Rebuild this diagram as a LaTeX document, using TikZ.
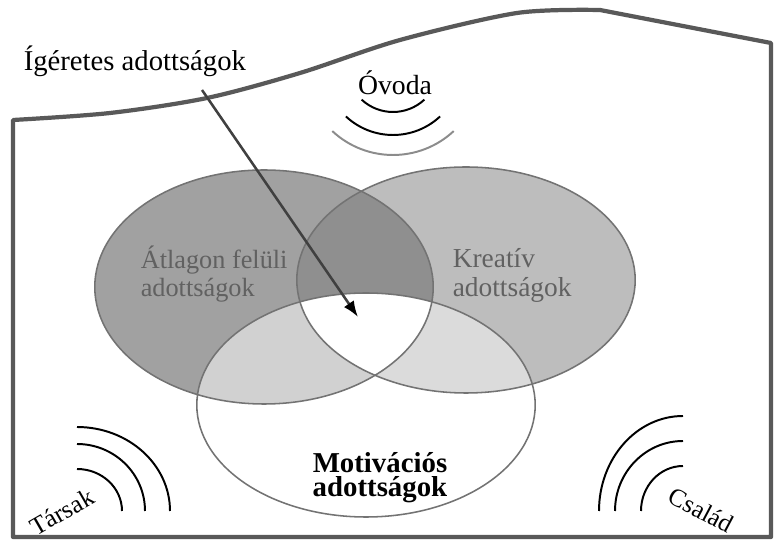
\documentclass[tikz,border=0pt]{standalone}
\usepackage{fontspec}
\setmainfont{Liberation Serif}
\usetikzlibrary{arrows.meta}

\begin{document}
\begin{tikzpicture}[line width=1.1pt,
  venn/.style={draw=black!55},
  wave/.style={line width=1.4pt},
  inlabel/.style={anchor=base west,inner sep=0pt,align=left,text=black!62}]
\useasboundingbox (0,0) rectangle (19.4,13.6);
% 三个椭圆的中心
\coordinate (atlag) at (6.6,6.425);
\coordinate (kreativ) at (11.65,6.6);
\coordinate (motiv) at (9.15,3.475);
% 填充（各区域灰度）
\fill[black!37] (atlag) ellipse (4.23 and 2.925);
\fill[black!26] (kreativ) ellipse (4.23 and 2.825);
\begin{scope}
  \clip (atlag) ellipse (4.23 and 2.925);
  \fill[black!44] (kreativ) ellipse (4.23 and 2.825);
\end{scope}
\fill[white] (motiv) ellipse (4.23 and 2.8);
\begin{scope}
  \clip (motiv) ellipse (4.23 and 2.8);
  \fill[black!18] (atlag) ellipse (4.23 and 2.925);
  \fill[black!14] (kreativ) ellipse (4.23 and 2.825);
  \clip (atlag) ellipse (4.23 and 2.925);
  \fill[white] (kreativ) ellipse (4.23 and 2.825);
\end{scope}
% 椭圆轮廓
\draw[venn] (atlag) ellipse (4.23 and 2.925);
\draw[venn] (kreativ) ellipse (4.23 and 2.825);
\draw[venn] (motiv) ellipse (4.23 and 2.8);
% 外框（上沿为曲线）
\draw[line width=3pt,black!65,line join=round]
  plot[smooth] coordinates {(0.325,10.6) (2.75,10.775) (5.175,11.15) (7.5,11.775) (10,12.6) (12.925,13.275) (15,13.35)}
  -- (19.275,12.525) -- (19.275,0.175) -- (0.325,0.175) -- cycle;
% 文字
\node[anchor=base west,inner sep=0pt,font=\fontsize{20.4}{24}\selectfont] (igeretes) at (0.575,11.825) {Ígéretes adottságok};
\node[anchor=base,inner sep=0pt,font=\fontsize{19.7}{23}\selectfont] (ovoda) at (9.875,11.225) {Óvoda};
\node[inlabel,font=\fontsize{18.7}{20.6}\selectfont] (atlagtext) at (3.5,6.175) {Átlagon felüli\\adottságok};
\node[inlabel,font=\fontsize{19.5}{21.3}\selectfont] (kreativtext) at (11.3,6.175) {Kreatív\\adottságok};
\node[anchor=base,inner sep=0pt,align=center,font=\bfseries\fontsize{20.5}{17.7}\selectfont] (motivtext) at (9.5,1.175) {Motivációs\\adottságok};
\node[rotate=30,inner sep=0pt,font=\fontsize{18}{20}\selectfont] (tarsak) at (1.55,0.8) {Társak};
\node[rotate=-28,inner sep=0pt,font=\fontsize{18}{20}\selectfont] (csalad) at (17.525,0.85) {Család};
% 箭头
\coordinate (nyil) at (5.05,11.35);
\coordinate (mag) at (8.95,5.675);
\draw[line width=1.8pt,black!75,-{Latex[length=0.4cm,width=0.3cm,color=black]}] (nyil) -- (mag);
% 波纹
\coordinate (ovodac) at (9.825,11.95);
\coordinate (tarsakc) at (1.925,0.825);
\coordinate (csaladc) at (17.075,0.825);
\foreach \r/\c in {1.15/black,1.725/black,2.225/black!45}
  \draw[wave,color=\c] (ovodac) ++(227:\r) arc[start angle=227,end angle=313,radius=\r];
\foreach \rx/\ry in {1.125/1.05,1.7/1.675,2.325/2.1}
  \draw[wave] (tarsakc) ++(0,\ry) arc[start angle=90,end angle=0,x radius=\rx,y radius=\ry];
\foreach \rx/\ry in {1.05/1.125,1.7/1.75,2.1/2.375}
  \draw[wave] (csaladc) ++(0,\ry) arc[start angle=90,end angle=180,x radius=\rx,y radius=\ry];
\end{tikzpicture}
\end{document}
